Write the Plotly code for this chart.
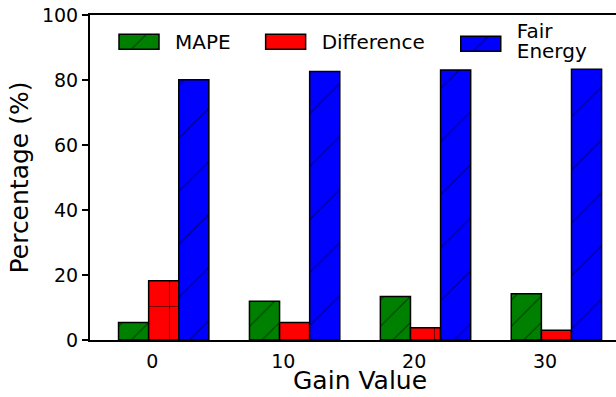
import plotly.graph_objects as go

# Gain settings on the x axis and the three measured percentages
gain_values = [0, 10, 20, 30]
mape = [5.4, 11.9, 13.4, 14.2]
difference = [18.2, 5.4, 3.8, 3.0]
fair_energy = [80.1, 82.6, 83.1, 83.3]
y_ticks = [0, 20, 40, 60, 80, 100]

FONT = "DejaVu Sans"
BAR_W = 2.3

series = [
    ("MAPE", mape, "green", dict(shape="/", size=18.5, solidity=0.06), -2.58),
    ("Difference", difference, "red", dict(shape="+", size=53, solidity=0.04), -0.28),
    ("Fair<br>Energy", fair_energy, "blue", dict(shape="/", size=37.5, solidity=0.03), 2.02),
]

fig = go.Figure()
for name, vals, color, pat, off in series:
    fig.add_trace(go.Bar(
        x=gain_values, y=vals, name=name,
        width=BAR_W, offset=off,
        marker=dict(color=color, line=dict(color="black", width=1.5),
                    pattern=dict(fgcolor="black", bgcolor=color, fillmode="overlay", **pat)),
    ))

fig.update_layout(
    width=616, height=397,
    margin=dict(l=90, r=0, t=15, b=57),
    plot_bgcolor="white", paper_bgcolor="white",
    barmode="overlay",
    font=dict(family=FONT, size=19, color="black"),
    showlegend=True,
    legend=dict(orientation="h", x=0, xanchor="left", y=0.978, yanchor="top",
                itemwidth=78, font=dict(size=20), bgcolor="rgba(0,0,0,0)",
                itemclick=False, valign="middle"),
    annotations=[dict(text="Gain Value", xref="paper", yref="paper",
                      x=0.5124, y=-0.125, xanchor="center", yanchor="middle",
                      showarrow=False, font=dict(size=25))],
)
fig.update_xaxes(
    range=[-4.76, 35.42], tickvals=gain_values, ticktext=[str(v) for v in gain_values],
    showline=True, linecolor="black", linewidth=2, mirror=True,
    ticks="", showgrid=False, zeroline=False, ticklabelstandoff=3,
)
fig.update_yaxes(
    range=[0, 100], tickvals=y_ticks,
    showline=True, linecolor="black", linewidth=2,
    ticks="outside", ticklen=6, tickwidth=1.5, tickcolor="black",
    showgrid=False, zeroline=False,
    title=dict(text="Percentage (%)", font=dict(size=25), standoff=6),
)

# legend keys: flat hatched rectangles; two-line entry centred on the row
post = """
var gd = document.getElementById('{plot_id}');
var shiftX = [-3, -5, -6];
var shiftY = [0, 0, -11];
function baseOf(el) {
  var cur = el.getAttribute('transform') || '';
  if (el.getAttribute('data-base') === null || cur !== el.getAttribute('data-set')) {
    el.setAttribute('data-base', cur);
  }
  return el.getAttribute('data-base');
}
function setT(el, t) { el.setAttribute('transform', t); el.setAttribute('data-set', t); }
function styleLegend() {
  var items = gd.querySelectorAll('.legend .traces');
  var bars = gd.querySelectorAll('.barlayer .trace');
  items.forEach(function(g, i) {
    var p = g.querySelector('.legendpoints path');
    if (p) {
      var pb = baseOf(p);
      p.setAttribute('d', 'M20,7.5H-20V-7.5H20Z');
      setT(p, pb + ' translate(8,0)');
      var bp = bars[i] && bars[i].querySelector('path');
      if (bp) { p.style.fill = bp.style.fill; }
      p.style.stroke = 'black';
      p.style.strokeWidth = '1.5px';
      p.style.strokeOpacity = '1';
    }
    var lines = g.querySelectorAll('text.legendtext tspan.line');
    for (var k = 1; k < lines.length; k++) { lines[k].setAttribute('dy', '1em'); }
    var gb = baseOf(g);
    var m = gb.match(/translate\\(([-\\d.]+)[ ,]+([-\\d.]+)\\)/);
    if (m) {
      setT(g, 'translate(' + (parseFloat(m[1]) + shiftX[i]) + ',' + (parseFloat(m[2]) + shiftY[i]) + ')');
    }
  });
}
styleLegend();
gd.on('plotly_afterplot', styleLegend);
setTimeout(styleLegend, 300);
"""
fig.write_html("out.html", post_script=post)
